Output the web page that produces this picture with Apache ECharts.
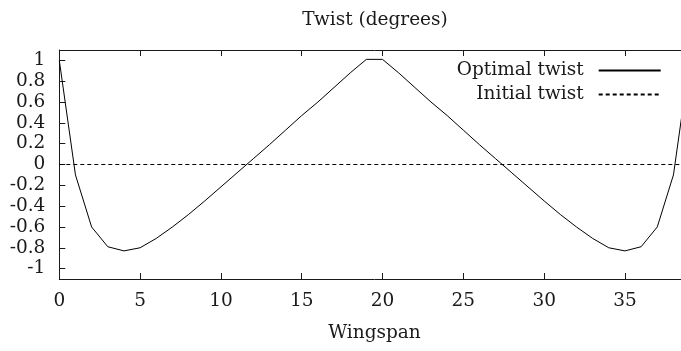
<!DOCTYPE html>
<html>
<head>
<meta charset="utf-8">
<script src="https://cdn.jsdelivr.net/npm/echarts@6/dist/echarts.min.js"></script>
<style>
  html, body { margin: 0; padding: 0; background: #fff; overflow: hidden; }
  #chart { width: 690px; height: 351px; }
</style>
</head>
<body>
<div id="chart"></div>
<script>
// Wing span stations and twist values (degrees)
const span = [0, 1, 2, 3, 4, 5, 6, 7, 8, 9, 10, 11, 12, 13, 14, 15, 16, 17, 18, 19,
              20, 21, 22, 23, 24, 25, 26, 27, 28, 29, 30, 31, 32, 33, 34, 35, 36, 37, 38, 39];
const optimalTwist = [1.0, -0.10, -0.60, -0.79, -0.83, -0.80, -0.71, -0.60, -0.48, -0.35,
                      -0.215, -0.08, 0.055, 0.19, 0.33, 0.47, 0.60, 0.74, 0.88, 1.01,
                      1.01, 0.88, 0.74, 0.60, 0.47, 0.33, 0.19, 0.055, -0.08, -0.215,
                      -0.35, -0.48, -0.60, -0.71, -0.80, -0.83, -0.79, -0.60, -0.10, 1.0];
const initialSpan = [0, 39];
const initialTwist = [0, 0];

const xTicks = [0, 5, 10, 15, 20, 25, 30, 35];
const yTicks = [-1, -0.8, -0.6, -0.4, -0.2, 0, 0.2, 0.4, 0.6, 0.8, 1];

const FONT = 'DejaVu Serif';
const FS = 18.5;
const INK = '#1a1a1a';

const pairs = (xs, ys) => xs.map((x, i) => [x, ys[i]]);

const frameAxis = {
  axisLine: { show: true, onZero: false, lineStyle: { color: INK, width: 1 } },
  splitLine: { show: false }
};

const legendBase = {
  orient: 'vertical',
  align: 'right',
  right: 28.3,
  padding: 0,
  itemWidth: 62,
  itemHeight: 14,
  itemStyle: { opacity: 0 },
  textStyle: { fontFamily: FONT, fontSize: FS, color: INK, padding: [0, 10, 0, 0] }
};

const chart = echarts.init(document.getElementById('chart'), null, { renderer: 'canvas' });

chart.setOption({
  animation: false,
  backgroundColor: '#fff',
  textStyle: { fontFamily: FONT, color: INK },
  title: {
    text: 'Twist (degrees)',
    left: 370,
    top: 6,
    textAlign: 'center',
    textStyle: { fontFamily: FONT, fontSize: FS, fontWeight: 'normal', color: INK }
  },
  grid: { left: 59.3, right: 0.4, top: 50, bottom: 72, containLabel: false },
  legend: [
    Object.assign({ data: ['Optimal twist'], top: 61 }, legendBase),
    Object.assign({ data: ['Initial twist'], top: 85 }, legendBase)
  ],
  xAxis: [
    Object.assign({
      type: 'value',
      position: 'bottom',
      min: 0,
      max: 39,
      name: 'Wingspan',
      nameLocation: 'middle',
      nameGap: 45,
      nameTextStyle: { fontFamily: FONT, fontSize: FS, color: INK },
      axisTick: { show: true, inside: true, length: 6, customValues: xTicks, lineStyle: { color: INK } },
      axisLabel: { show: true, margin: 13, customValues: xTicks, fontFamily: FONT, fontSize: FS, color: INK }
    }, frameAxis),
    Object.assign({
      type: 'value',
      position: 'top',
      min: 0,
      max: 39,
      axisTick: { show: true, inside: true, length: 6, customValues: xTicks, lineStyle: { color: INK } },
      axisLabel: { show: false }
    }, frameAxis)
  ],
  yAxis: [
    Object.assign({
      type: 'value',
      position: 'left',
      min: -1.1,
      max: 1.1,
      axisTick: { show: true, inside: true, length: 6, customValues: yTicks, lineStyle: { color: INK } },
      axisLabel: { show: true, margin: 14, customValues: yTicks, fontFamily: FONT, fontSize: FS, color: INK }
    }, frameAxis),
    Object.assign({
      type: 'value',
      position: 'right',
      min: -1.1,
      max: 1.1,
      axisTick: { show: true, inside: true, length: 6, customValues: yTicks, lineStyle: { color: INK } },
      axisLabel: { show: false }
    }, frameAxis)
  ],
  series: [
    {
      name: 'Optimal twist',
      type: 'line',
      data: pairs(span, optimalTwist),
      symbol: 'none',
      lineStyle: { color: '#000', width: 1 },
      itemStyle: { color: '#000' }
    },
    {
      name: 'Initial twist',
      type: 'line',
      data: pairs(initialSpan, initialTwist),
      symbol: 'none',
      lineStyle: { color: '#000', width: 1, type: [4, 3] },
      itemStyle: { color: '#000' }
    }
  ]
});
</script>
</body>
</html>
